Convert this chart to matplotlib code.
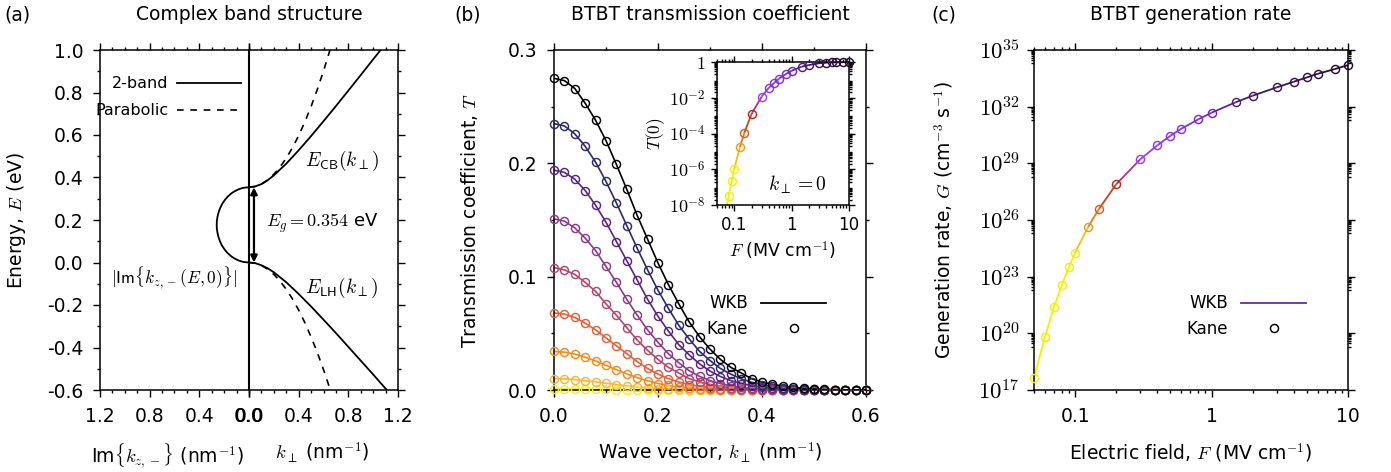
import numpy as np
import matplotlib
matplotlib.use('Agg')
import matplotlib.pyplot as plt
import matplotlib.colors as mcolors
from matplotlib.collections import LineCollection
from matplotlib.lines import Line2D
from matplotlib.ticker import (MultipleLocator, FixedLocator, FixedFormatter,
                               FormatStrFormatter, LogLocator, NullFormatter)

plt.rcParams['font.family'] = 'DejaVu Sans'
plt.rcParams['mathtext.fontset'] = 'cm'
plt.rcParams['axes.unicode_minus'] = False
plt.rcParams['font.size'] = 13
plt.rcParams['axes.linewidth'] = 1.1

# ---------------- (a) complex band structure ----------------
k_cb = [0, 0.05, 0.1, 0.15, 0.2, 0.3, 0.4, 0.5, 0.6, 0.7, 0.8, 0.9, 1.0, 1.06]
E_cb = [0.354, 0.358, 0.369, 0.387, 0.410, 0.465, 0.528, 0.595, 0.665, 0.736,
        0.809, 0.882, 0.956, 1.000]
k_lh = [0, 0.05, 0.1, 0.15, 0.2, 0.3, 0.4, 0.5, 0.6, 0.7, 0.8, 0.9, 1.0, 1.11]
E_lh = [0.000, -0.003, -0.013, -0.027, -0.046, -0.093, -0.148, -0.207, -0.269,
        -0.332, -0.397, -0.462, -0.527, -0.600]
k_cb_par = [0, 0.05, 0.1, 0.15, 0.2, 0.25, 0.3, 0.35, 0.4, 0.45, 0.5, 0.55, 0.6, 0.652]
E_cb_par = [0.354, 0.358, 0.369, 0.388, 0.415, 0.449, 0.491, 0.540, 0.597, 0.662,
            0.734, 0.814, 0.901, 1.000]
k_lh_par = [0, 0.05, 0.1, 0.15, 0.2, 0.25, 0.3, 0.35, 0.4, 0.45, 0.5, 0.55, 0.6, 0.655]
E_lh_par = [0, -0.0035, -0.014, -0.0315, -0.056, -0.0875, -0.126, -0.1715, -0.224,
            -0.2835, -0.35, -0.4235, -0.504, -0.600]
E_gap = [0, 0.002, 0.005, 0.01, 0.02, 0.03, 0.045, 0.06, 0.08, 0.1, 0.12, 0.14, 0.16,
         0.177, 0.194, 0.214, 0.234, 0.254, 0.274, 0.294, 0.309, 0.324, 0.334, 0.344,
         0.349, 0.352, 0.354]
im_k = [0, 0.038, 0.061, 0.086, 0.120, 0.145, 0.173, 0.195, 0.218, 0.234, 0.246, 0.254,
        0.259, 0.260, 0.259, 0.254, 0.246, 0.234, 0.218, 0.195, 0.173, 0.145, 0.120,
        0.086, 0.061, 0.038, 0]
Eg = 0.354

# ---------------- (b) transmission coefficient ----------------
k_perp = [0.00, 0.02, 0.04, 0.06, 0.08, 0.10, 0.12, 0.14, 0.16, 0.18, 0.20, 0.22,
          0.24, 0.26, 0.28, 0.30, 0.32, 0.34, 0.36, 0.38, 0.40, 0.42, 0.44, 0.46,
          0.48, 0.50, 0.52, 0.54, 0.56, 0.58, 0.60]
T1 = [0.275, 0.273, 0.266, 0.253, 0.238, 0.220, 0.199, 0.177, 0.154, 0.133, 0.112,
      0.093, 0.076, 0.060, 0.047, 0.036, 0.027, 0.020, 0.015, 0.010, 0.007, 0.005,
      0.0035, 0.0023, 0.0015, 0.001, 0.0006, 0.0004, 0.0002, 0.0001, 0.0001]
T2 = [0.235, 0.233, 0.226, 0.215, 0.201, 0.184, 0.165, 0.145, 0.125, 0.106, 0.088,
      0.072, 0.057, 0.045, 0.034, 0.026, 0.019, 0.014, 0.0098, 0.0068, 0.0047, 0.0031,
      0.0020, 0.0013, 0.0008, 0.0005, 0.0003, 0.0002, 0.0001, 0.0, 0.0]
T3 = [0.194, 0.192, 0.186, 0.176, 0.163, 0.148, 0.131, 0.114, 0.097, 0.080, 0.065,
      0.052, 0.040, 0.031, 0.023, 0.0167, 0.0119, 0.0083, 0.0057, 0.0038, 0.0025,
      0.0016, 0.0010, 0.0006, 0.0004, 0.0002, 0.0001, 0.0, 0.0, 0.0, 0.0]
T4 = [0.151, 0.149, 0.143, 0.134, 0.123, 0.109, 0.095, 0.080, 0.066, 0.053, 0.042,
      0.032, 0.024, 0.017, 0.012, 0.0083, 0.0056, 0.0036, 0.0023, 0.0014, 0.0009,
      0.0005, 0.0003, 0.0002, 0.0001, 0.0, 0.0, 0.0, 0.0, 0.0, 0.0]
T5 = [0.108, 0.106, 0.102, 0.095, 0.087, 0.076, 0.066, 0.055, 0.044, 0.035, 0.027,
      0.020, 0.015, 0.010, 0.0072, 0.0048, 0.0031, 0.0020, 0.0012, 0.0007, 0.0004,
      0.0002, 0.0001, 0.0, 0.0, 0.0, 0.0, 0.0, 0.0, 0.0, 0.0]
T6 = [0.068, 0.067, 0.064, 0.059, 0.053, 0.046, 0.039, 0.032, 0.025, 0.019, 0.014,
      0.010, 0.0071, 0.0048, 0.0032, 0.0020, 0.0012, 0.0007, 0.0004, 0.0002, 0.0001,
      0.0, 0.0, 0.0, 0.0, 0.0, 0.0, 0.0, 0.0, 0.0, 0.0]
T7 = [0.034, 0.0334, 0.0317, 0.029, 0.0256, 0.0218, 0.0179, 0.0142, 0.0109, 0.0081,
      0.0057, 0.0040, 0.0026, 0.0017, 0.0010, 0.0006, 0.0003, 0.0002, 0.0001, 0.0,
      0.0, 0.0, 0.0, 0.0, 0.0, 0.0, 0.0, 0.0, 0.0, 0.0, 0.0]
T8 = [0.0100, 0.0098, 0.0092, 0.0083, 0.0072, 0.0060, 0.0048, 0.0037, 0.0027, 0.0019,
      0.0013, 0.0008, 0.0005, 0.0003, 0.0002, 0.0001, 0.0, 0.0, 0.0, 0.0, 0.0, 0.0,
      0.0, 0.0, 0.0, 0.0, 0.0, 0.0, 0.0, 0.0, 0.0]
T9 = [0.0010, 0.0010, 0.0009, 0.0008, 0.0007, 0.0006, 0.0004, 0.0003, 0.0002, 0.0002,
      0.0001, 0.0, 0.0, 0.0, 0.0, 0.0, 0.0, 0.0, 0.0, 0.0, 0.0, 0.0, 0.0, 0.0, 0.0,
      0.0, 0.0, 0.0, 0.0, 0.0, 0.0]
T_curves = [T9, T8, T7, T6, T5, T4, T3, T2, T1]
T_colors = ['#f2ec2e', '#f6b83a', '#f28c1e', '#e4603a', '#b5476e', '#8b3a8a',
            '#5a2483', '#2d2a6d', '#000000']

# ---------------- (c) generation rate and inset ----------------
F_field = [0.05, 0.06, 0.07, 0.08, 0.09, 0.1, 0.125, 0.15, 0.2, 0.3, 0.4, 0.5, 0.6,
           0.8, 1.0, 1.5, 2, 3, 4, 5, 6, 8, 10]
logG = [17.65, 19.79, 21.38, 22.56, 23.50, 24.27, 25.65, 26.60, 27.89, 29.21, 29.95,
        30.46, 30.83, 31.33, 31.68, 32.23, 32.58, 33.02, 33.32, 33.55, 33.74, 33.99, 34.20]
logT0 = [-11.5, -9.8, -8.4, -7.49, -6.65, -5.98, -4.77, -3.95, -2.91, -1.94, -1.44,
         -1.16, -0.93, -0.67, -0.49, -0.26, -0.17, -0.07, -0.04, -0.025, -0.018, -0.01,
         -0.005]
F_colors = ['#f5ef00', '#f5ef00', '#f5ef00', '#f5ef00', '#f5ef00', '#f5ef00',
            '#ec9a22', '#d8601e', '#b32d14', '#9c40f2', '#9038ec', '#8a34e6', '#8432de',
            '#7a2ed0', '#6c2ac0', '#4c1f7e', '#44196c', '#3a165a', '#35144e', '#301246',
            '#2c1040', '#260e36', '#200c2c']

W, H = 1391, 472
fig = plt.figure(figsize=(W / 100, H / 100), dpi=100)
MS, MEW = 5.8, 1.05


def box(l, r, t, b):
    return [l / W, 1 - b / H, (r - l) / W, (b - t) / H]


def style(ax, size=13.5):
    ax.tick_params(which='both', direction='out', top=True, right=True,
                   width=1.0, labelsize=size, pad=7)
    ax.tick_params(which='major', length=5)
    ax.tick_params(which='minor', length=2.5)


def seg_colors(cols):
    rgb = [np.array(mcolors.to_rgb(c)) for c in cols]
    return [(rgb[i] + rgb[i + 1]) / 2 for i in range(len(rgb) - 1)]


# ---------- panel (a) ----------
axa = fig.add_axes(box(100, 398, 50, 390))
axa.plot(k_cb, E_cb, 'k-', lw=1.3)
axa.plot(k_lh, E_lh, 'k-', lw=1.3)
axa.plot(k_cb_par, E_cb_par, 'k--', lw=1.2, dashes=(4, 4))
axa.plot(k_lh_par, E_lh_par, 'k--', lw=1.2, dashes=(4, 4))
axa.plot(-np.array(im_k), E_gap, 'k-', lw=1.3)
axa.axvline(0, color='k', lw=1.5)
axa.annotate('', xy=(0.04, 0), xytext=(0.04, Eg),
             arrowprops=dict(arrowstyle='<|-|>', color='k', lw=1.6,
                             mutation_scale=10, shrinkA=0, shrinkB=0))
axa.set_xlim(-1.2, 1.2)
axa.set_ylim(-0.6, 1.0)
axa.xaxis.set_major_locator(FixedLocator([-1.2, -0.8, -0.4, -0.004, 0.004, 0.4, 0.8, 1.2]))
axa.xaxis.set_major_formatter(FixedFormatter(['1.2', '0.8', '0.4', '0.0', '0.0',
                                              '0.4', '0.8', '1.2']))
axa.xaxis.set_minor_locator(MultipleLocator(0.1))
axa.yaxis.set_major_locator(MultipleLocator(0.2))
axa.yaxis.set_minor_locator(MultipleLocator(0.1))
axa.yaxis.set_major_formatter(FormatStrFormatter('%.1f'))
style(axa)
axa.set_ylabel('Energy, $E$ (eV)', fontsize=13.5)
axa.yaxis.set_label_coords(-0.242, 0.5)
axa.text(0.225, -0.15, r'Im$\{k_{z,-}\}$ (nm$^{-1}$)', transform=axa.transAxes,
         ha='center', va='top', fontsize=13.5)
axa.text(0.745, -0.15, r'$k_\perp$ (nm$^{-1}$)', transform=axa.transAxes,
         ha='center', va='top', fontsize=13.5)
axa.text(0.75, 0.48, r'$E_{\mathsf{CB}}(k_\perp)$', ha='center', va='center', fontsize=14)
axa.text(0.75, -0.12, r'$E_{\mathsf{LH}}(k_\perp)$', ha='center', va='center', fontsize=14)
axa.text(0.59, 0.186, r'$E_g = 0.354$ eV', ha='center', va='center', fontsize=13)
axa.text(-0.60, -0.07, r'$|\mathsf{Im}\{k_{z,-}(E,0)\}|$', ha='center', va='center',
         fontsize=12.5)
leg_a = [Line2D([], [], color='k', lw=1.3, label='2-band'),
         Line2D([], [], color='k', lw=1.2, ls='--', dashes=(4, 4), label='Parabolic')]
axa.legend(handles=leg_a, loc='upper right', bbox_to_anchor=(0.52, 0.965),
           frameon=False, markerfirst=False, fontsize=11.5, handlelength=4.0,
           labelspacing=0.75, handletextpad=0.5)

# ---------- panel (b) ----------
axb = fig.add_axes(box(554, 866, 50, 390))
for T, c in zip(T_curves, T_colors):
    axb.plot(k_perp, T, '-', color=c, lw=1.2)
    axb.plot(k_perp, T, 'o', ls='none', mfc='none', mec=c, ms=MS, mew=MEW,
             clip_on=False, zorder=3)
axb.set_xlim(0, 0.6)
axb.set_ylim(0, 0.3)
axb.xaxis.set_major_locator(MultipleLocator(0.2))
axb.xaxis.set_minor_locator(MultipleLocator(0.1))
axb.yaxis.set_major_locator(MultipleLocator(0.1))
axb.yaxis.set_minor_locator(MultipleLocator(0.05))
axb.xaxis.set_major_formatter(FormatStrFormatter('%.1f'))
axb.yaxis.set_major_formatter(FormatStrFormatter('%.1f'))
style(axb)
axb.set_ylabel('Transmission coefficient, $T$', fontsize=13.5)
axb.yaxis.set_label_coords(-0.237, 0.5)
axb.set_xlabel(r'Wave vector, $k_\perp$ (nm$^{-1}$)', fontsize=13.5)
axb.xaxis.set_label_coords(0.5, -0.15)
leg_b = [Line2D([], [], color='k', lw=1.3, label='WKB'),
         Line2D([], [], ls='none', marker='o', mfc='none', mec='k', ms=MS, mew=MEW,
                label='Kane')]
axb.legend(handles=leg_b, loc='upper right', bbox_to_anchor=(0.92, 0.325), frameon=False,
           markerfirst=False, fontsize=12, handlelength=3.9, labelspacing=0.45,
           handletextpad=0.8)

# inset
axi = fig.add_axes(box(717, 849, 62, 205))
T0 = 10.0 ** np.array(logT0)
axi.set_xscale('log')
axi.set_yscale('log')
segs_i = [[(F_field[i], T0[i]), (F_field[i + 1], T0[i + 1])] for i in range(len(F_field) - 1)]
axi.add_collection(LineCollection(segs_i, colors=seg_colors(F_colors), lw=1.3))
for f, t, c in zip(F_field, T0, F_colors):
    if t >= 1e-8:
        axi.plot([f], [t], 'o', mfc='none', mec=c, ms=MS, mew=MEW, clip_on=False, zorder=3)
axi.set_xlim(0.05, 10)
axi.set_ylim(1e-8, 1)
axi.xaxis.set_major_locator(FixedLocator([0.1, 1, 10]))
axi.xaxis.set_major_formatter(FixedFormatter(['0.1', '1', '10']))
axi.xaxis.set_minor_locator(LogLocator(base=10, subs=np.arange(2, 10), numticks=50))
axi.xaxis.set_minor_formatter(NullFormatter())
axi.yaxis.set_major_locator(FixedLocator([1e-8, 1e-6, 1e-4, 1e-2, 1]))
axi.yaxis.set_major_formatter(FixedFormatter(['$10^{-8}$', '$10^{-6}$', '$10^{-4}$',
                                              '$10^{-2}$', '$1$']))
axi.yaxis.set_minor_locator(LogLocator(base=10, subs=np.arange(2, 10), numticks=50))
axi.yaxis.set_minor_formatter(NullFormatter())
style(axi, size=12)
axi.tick_params(which='both', pad=4)
axi.tick_params(which='major', length=4)
axi.tick_params(which='minor', length=2)
axi.tick_params(axis='y', labelsize=13)
axi.set_ylabel('$T(0)$', fontsize=12.5, labelpad=2)
axi.set_xlabel('$F$ (MV cm$^{-1}$)', fontsize=12.5, labelpad=4)
axi.text(0.61, 0.14, r'$k_\perp = 0$', transform=axi.transAxes, ha='center',
         va='center', fontsize=14)

# ---------- panel (c) ----------
axc = fig.add_axes(box(1034, 1348, 50, 390))
G = 10.0 ** np.array(logG)
axc.set_xscale('log')
axc.set_yscale('log')
segs_c = [[(F_field[i], G[i]), (F_field[i + 1], G[i + 1])] for i in range(len(F_field) - 1)]
axc.add_collection(LineCollection(segs_c, colors=seg_colors(F_colors), lw=1.3))
for f, g, c in zip(F_field, G, F_colors):
    axc.plot([f], [g], 'o', mfc='none', mec=c, ms=MS, mew=MEW, clip_on=False, zorder=3)
axc.set_xlim(0.05, 10)
axc.set_ylim(1e17, 1e35)
axc.xaxis.set_major_locator(FixedLocator([0.1, 1, 10]))
axc.xaxis.set_major_formatter(FixedFormatter(['0.1', '1', '10']))
axc.xaxis.set_minor_locator(LogLocator(base=10, subs=np.arange(2, 10), numticks=50))
axc.xaxis.set_minor_formatter(NullFormatter())
g_major = [17, 20, 23, 26, 29, 32, 35]
axc.yaxis.set_major_locator(FixedLocator([10.0 ** n for n in g_major]))
axc.yaxis.set_major_formatter(FixedFormatter(['$10^{%d}$' % n for n in g_major]))
axc.yaxis.set_minor_locator(FixedLocator([s * 10.0 ** (n - 1) for n in g_major[1:]
                                          for s in range(2, 10)]))
axc.yaxis.set_minor_formatter(NullFormatter())
style(axc)
axc.tick_params(axis='y', labelsize=16.5, pad=5)
axc.set_ylabel('Generation rate, $G$ (cm$^{-3}$ s$^{-1}$)', fontsize=13.5)
axc.yaxis.set_label_coords(-0.252, 0.5)
axc.set_xlabel('Electric field, $F$ (MV cm$^{-1}$)', fontsize=13.5)
axc.xaxis.set_label_coords(0.5, -0.15)
leg_c = [Line2D([], [], color='#5b2ac0', lw=1.3, label='WKB'),
         Line2D([], [], ls='none', marker='o', mfc='none', mec='k', ms=MS, mew=MEW,
                label='Kane')]
axc.legend(handles=leg_c, loc='upper right', bbox_to_anchor=(0.915, 0.325), frameon=False,
           markerfirst=False, fontsize=12, handlelength=3.9, labelspacing=0.45,
           handletextpad=0.8)

# titles and panel letters
for xc, title in [(249, 'Complex band structure'), (710, 'BTBT transmission coefficient'),
                  (1191, 'BTBT generation rate')]:
    fig.text(xc / W, 1 - 15 / H, title, ha='center', va='center', fontsize=13.5)
for xc, lab in [(17, '(a)'), (468, '(b)'), (944, '(c)')]:
    fig.text(xc / W, 1 - 15 / H, lab, ha='center', va='center', fontsize=13.5)

fig.savefig('out.png', dpi=100)
